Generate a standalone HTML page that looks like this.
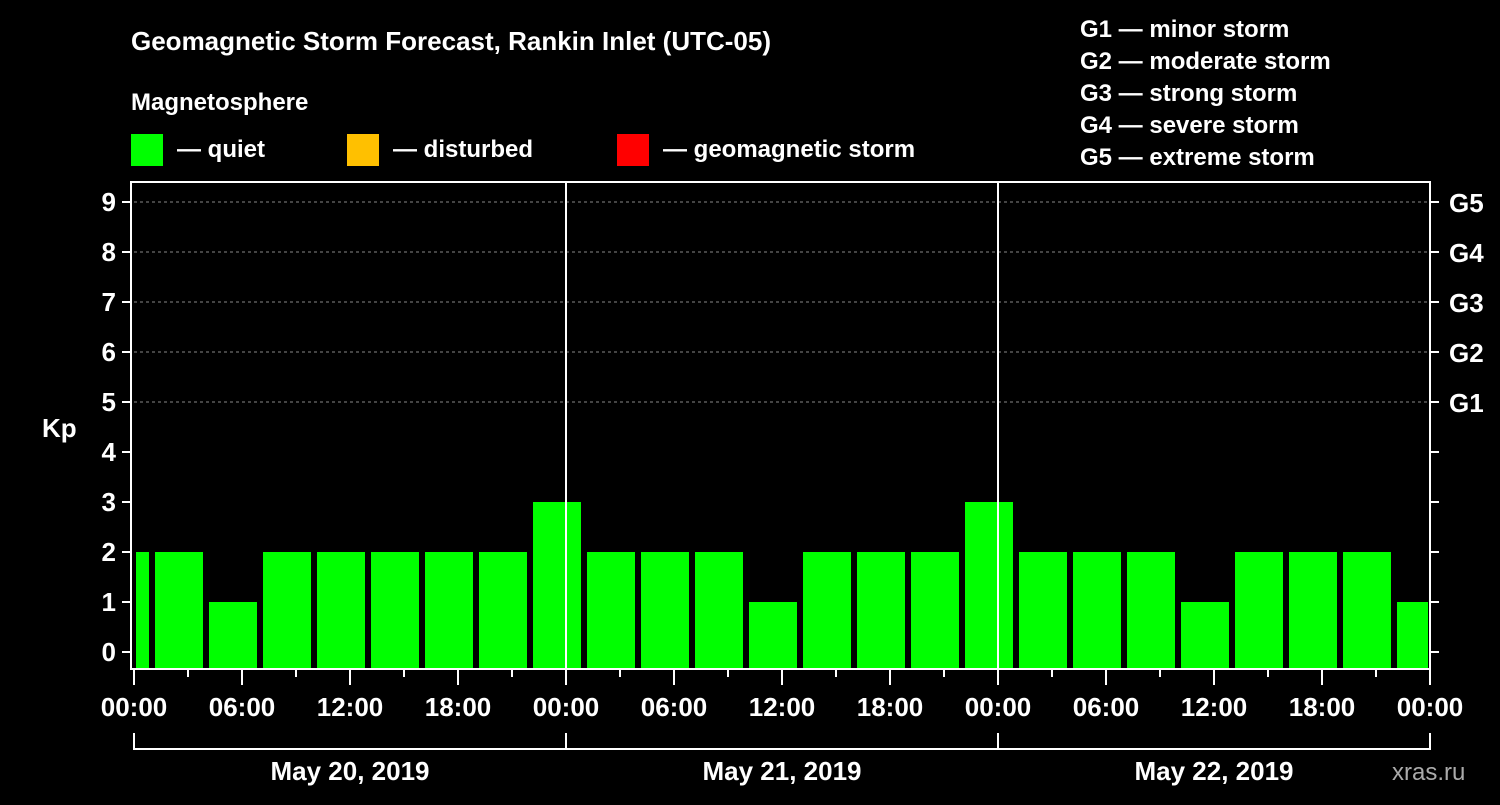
<!DOCTYPE html>
<html><head><meta charset="utf-8"><style>
body{margin:0;background:#000;width:1500px;height:800px;overflow:hidden}
svg text{font-family:"Liberation Sans",sans-serif;font-weight:bold;fill:#fff}
</style></head><body>
<svg id="chart" width="1500" height="800" xmlns="http://www.w3.org/2000/svg">
<rect width="1500" height="800" fill="#000"/>
<text x="131" y="50" font-size="26">Geomagnetic Storm Forecast, Rankin Inlet (UTC-05)</text>
<text x="131" y="110" font-size="24">Magnetosphere</text>
<g>
<rect x="131" y="134" width="32" height="32" fill="#00ff00"/>
<text x="177" y="157" font-size="24">— quiet</text>
<rect x="347" y="134" width="32" height="32" fill="#ffc000"/>
<text x="393" y="157" font-size="24">— disturbed</text>
<rect x="617" y="134" width="32" height="32" fill="#ff0000"/>
<text x="663" y="157" font-size="24">— geomagnetic storm</text>
</g>
<g font-size="24">
<text x="1080" y="37">G1 — minor storm</text>
<text x="1080" y="69">G2 — moderate storm</text>
<text x="1080" y="101">G3 — strong storm</text>
<text x="1080" y="133">G4 — severe storm</text>
<text x="1080" y="165">G5 — extreme storm</text>
</g>
<text x="42" y="437" font-size="26">Kp</text>
<text x="1392" y="780" font-size="24" fill="#aaa" style="fill:#aaa;font-weight:normal">xras.ru</text>
<g id="plot"></g>
</svg>
<script>
const kpValues=[2,2,1,2,2,2,2,2,3,2,2,2,1,2,2,2,3,2,2,2,1,2,2,2,1];
const binStartHours=[-2,1,4,7,10,13,16,19,22,25,28,31,34,37,40,43,46,49,52,55,58,61,64,67,70];
const yTicks=[0,1,2,3,4,5,6,7,8,9];
const gLabels=["G1","G2","G3","G4","G5"];
const gLevels=[5,6,7,8,9];
const xTickLabels=["00:00","06:00","12:00","18:00","00:00","06:00","12:00","18:00","00:00","06:00","12:00","18:00","00:00"];
const dayLabels=["May 20, 2019","May 21, 2019","May 22, 2019"];
const NS="http://www.w3.org/2000/svg";
const L=134,R=1430,T=182,B=668;
const xs=h=>L+h*18;
const ys=v=>652-v*50;
const g=document.getElementById('plot');
function mk(t,a){const e=document.createElementNS(NS,t);for(const k in a)e.setAttribute(k,a[k]);g.appendChild(e);return e;}
// grid
yTicks.forEach(v=>{if(v>=5){const e=mk('line',{x1:L,x2:R,y1:ys(v),y2:ys(v),stroke:'#888','stroke-dasharray':'3,3','stroke-width':1});

}});
// bars
kpValues.forEach((v,i)=>{let x0=xs(binStartHours[i])+3,x1=xs(binStartHours[i]+3)-3;x0=Math.max(x0,L+2);x1=Math.min(x1,R-2);
const e=mk('rect',{x:x0,y:ys(v),width:x1-x0,height:B-ys(v),fill:'#00ff00'});

});
// day separators
[24,48].forEach(h=>{const e=mk('line',{x1:xs(h),x2:xs(h),y1:T,y2:B,stroke:'#fff','stroke-width':2});

});
// frame
const f=mk('rect',{x:L-3,y:T,width:R-L+3,height:B-T+1,fill:'none',stroke:'#fff','stroke-width':2});


// y ticks
yTicks.forEach(v=>{mk('line',{x1:L-12,x2:L-3,y1:ys(v),y2:ys(v),stroke:'#fff','stroke-width':2});
mk('line',{x1:R,x2:R+9,y1:ys(v),y2:ys(v),stroke:'#fff','stroke-width':2});
const t=mk('text',{x:L-18,y:ys(v)+9,'font-size':26,'text-anchor':'end'});t.textContent=v;

});
gLabels.forEach((s,i)=>{const t=mk('text',{x:1449,y:ys(gLevels[i])+10,'font-size':26});t.textContent=s;

});
// x ticks
for(let h=0;h<=72;h+=3){const major=h%6===0;mk('line',{x1:xs(h),x2:xs(h),y1:B,y2:major?685:677,stroke:'#fff','stroke-width':2});}
xTickLabels.forEach((s,i)=>{const t=mk('text',{x:xs(i*6),y:716,'font-size':26,'text-anchor':'middle'});t.textContent=s;

});
// day brackets
dayLabels.forEach((s,i)=>{const a=xs(i*24),b=xs(i*24+24);
mk('path',{d:`M${a} 733V749H${b}V733`,fill:'none',stroke:'#fff','stroke-width':2});
const t=mk('text',{x:(a+b)/2,y:780,'font-size':26,'text-anchor':'middle'});t.textContent=s;

});
</script>
</body></html>
